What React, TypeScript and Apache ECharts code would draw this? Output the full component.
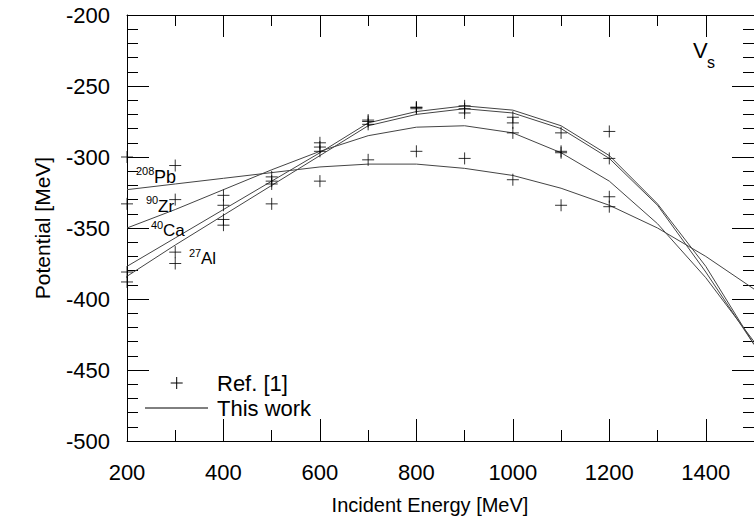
import React, { useEffect, useRef } from "react";
import * as echarts from "echarts";

// Incident energies for the model curves ("This work")
const curveEnergies = [200, 300, 400, 500, 600, 700, 800, 900, 1000, 1100, 1200, 1300, 1400, 1500];
const pb208 = [-323, -319, -315, -311, -307, -305, -305, -308, -313, -322, -334, -350, -370, -393];
const zr90 = [-350, -337, -323, -309, -296, -285, -279, -278, -283, -297, -317, -347, -385, -430];
const ca40 = [-377, -357, -337, -317, -297, -276, -268, -264, -267, -278, -299, -333, -377, -432];
const al27 = [-384, -362, -341, -320, -299, -278, -270, -266, -269, -280, -301, -334, -381, -432];

// Reference points ("Ref. [1]"), four nuclei per energy
const refEnergies = [200, 300, 400, 500, 600, 700, 800, 900, 1000, 1100, 1200];
const refValues = [
  [-300, -333, -381, -388],
  [-306, -330, -367, -375],
  [-327, -334, -344, -348],
  [-314, -317, -319, -333],
  [-290, -293, -296, -317],
  [-274, -275, -277, -302],
  [-265, -265, -266, -296],
  [-264, -266, -269, -301],
  [-272, -276, -283, -316],
  [-283, -296, -297, -334],
  [-282, -301, -328, -335],
];

const xTicks = { min: 200, max: 1500, interval: 200 };
const yTicks = { min: -500, max: -200, interval: 50 };

const PLUS = "path://M5,0 L5,10 M0,5 L10,5";
const FONT = "'Liberation Sans', Arial, Helvetica, sans-serif";

export default function App() {
  const ref = useRef<HTMLDivElement>(null);
  useEffect(() => {
    if (!ref.current) return;
    const chart = echarts.init(ref.current, undefined, { renderer: "svg" });
    const lineColor = "#444";
    const mkLine = (name: string, vals: number[]) => ({
      name,
      type: "line",
      data: curveEnergies.map((x, i) => [x, vals[i]]),
      symbol: "none",
      showSymbol: false,
      lineStyle: { color: lineColor, width: 1 },
      z: 2,
    });
    const scatterData: number[][] = [];
    refEnergies.forEach((e, i) => refValues[i].forEach((v) => scatterData.push([e, v])));

    const axisCommon = {
      axisLine: { show: true, onZero: false, lineStyle: { color: "#000", width: 1 } },
      axisTick: { show: true, inside: true, length: 22, lineStyle: { color: "#000", width: 1 } },
      minorTick: { show: true, length: 11, lineStyle: { color: "#000", width: 1 } },
      splitLine: { show: false },
    };
    const txt = (text: string, x: number, y: number, size: number, align = "left") => ({
      type: "text",
      x,
      y,
      style: { text, fill: "#000", fontSize: size, fontFamily: FONT, textAlign: align, textVerticalAlign: "middle" },
      z: 10,
    });
    const fmt = (v: number) => String(v);

    chart.setOption({
      animation: false,
      backgroundColor: "#fff",
      grid: { left: 127, right: -6, top: 15, bottom: 86 },
      xAxis: [
        {
          type: "value",
          position: "bottom",
          ...xTicks,
          ...axisCommon,
          minorTick: { ...axisCommon.minorTick, splitNumber: 2 },
          axisLabel: { fontSize: 22, color: "#000", margin: 20, fontFamily: FONT, formatter: fmt },
        },
        {
          type: "value",
          position: "top",
          ...xTicks,
          ...axisCommon,
          minorTick: { ...axisCommon.minorTick, splitNumber: 2 },
          axisLabel: { show: false },
        },
      ],
      yAxis: [
        {
          type: "value",
          position: "left",
          ...yTicks,
          ...axisCommon,
          minorTick: { ...axisCommon.minorTick, splitNumber: 5 },
          axisLabel: { fontSize: 22, color: "#000", margin: 17, fontFamily: FONT, formatter: fmt },
          name: "Potential [MeV]",
          nameLocation: "middle",
          nameRotate: 90,
          nameGap: 74,
          nameTextStyle: { fontSize: 21, color: "#000", fontFamily: FONT },
        },
        {
          type: "value",
          position: "right",
          ...yTicks,
          ...axisCommon,
          minorTick: { ...axisCommon.minorTick, splitNumber: 5 },
          axisLabel: { show: false },
        },
      ],
      series: [
        mkLine("208Pb", pb208),
        mkLine("90Zr", zr90),
        mkLine("40Ca", ca40),
        mkLine("27Al", al27),
        {
          name: "Ref. [1]",
          type: "scatter",
          data: scatterData,
          symbol: PLUS,
          symbolSize: 12,
          itemStyle: { color: "none", borderColor: "#000", borderWidth: 1 },
          z: 3,
        },
      ],
      graphic: [
        txt("Incident Energy [MeV]", 430, 505, 20, "center"),
        txt("208", 136, 171, 11),
        txt("Pb", 154, 177, 18),
        txt("90", 146, 200, 11),
        txt("Zr", 158, 206, 17),
        txt("40", 151, 225, 11),
        txt("Ca", 163, 230, 17),
        txt("27", 189, 253, 11),
        txt("Al", 201, 258, 17),
        txt("V", 693, 50, 22),
        txt("s", 707, 62, 16),
        // legend
        {
          type: "line",
          shape: { x1: 170.7, y1: 383, x2: 182.7, y2: 383 },
          style: { stroke: "#000", lineWidth: 1 },
        },
        {
          type: "line",
          shape: { x1: 176.7, y1: 377, x2: 176.7, y2: 389 },
          style: { stroke: "#000", lineWidth: 1 },
        },
        txt("Ref. [1]", 217, 383, 22),
        {
          type: "line",
          shape: { x1: 145, y1: 408, x2: 208, y2: 408 },
          style: { stroke: "#000", lineWidth: 1 },
        },
        txt("This work", 217, 408, 22),
      ],
    });
    return () => chart.dispose();
  }, []);
  return (
    <div
      ref={ref}
      style={{ position: "absolute", left: 0, top: 0, width: 754, height: 527, background: "#fff" }}
    />
  );
}
